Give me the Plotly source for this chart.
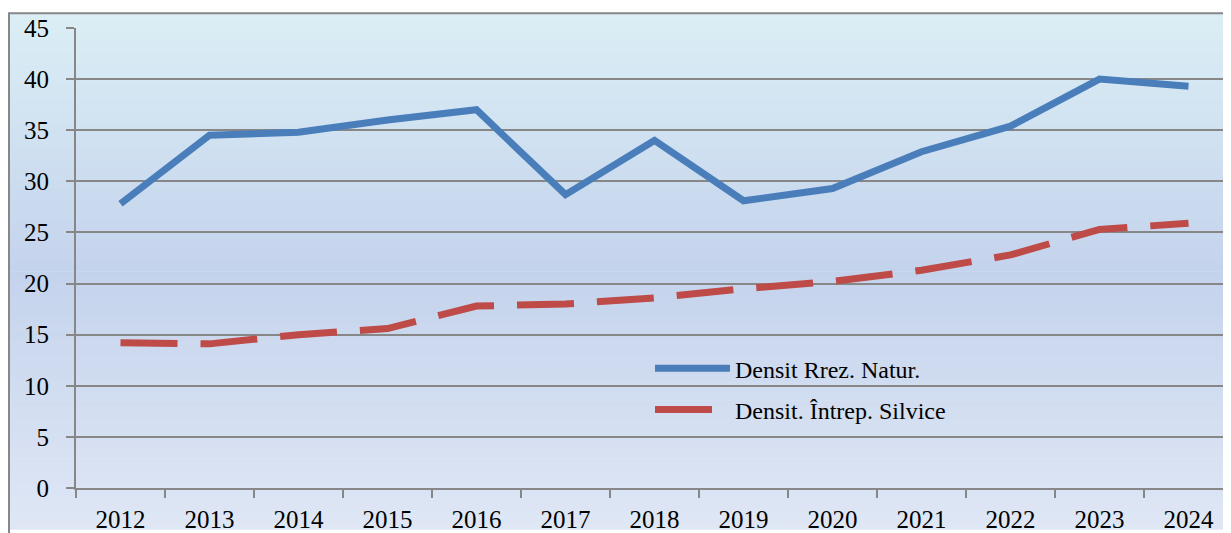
import plotly.graph_objects as go

years = ["2012", "2013", "2014", "2015", "2016", "2017", "2018",
         "2019", "2020", "2021", "2022", "2023", "2024"]
rezervatii = [27.8, 34.5, 34.8, 36.0, 37.0, 28.7, 34.0, 28.1, 29.3, 32.9, 35.4, 40.0, 39.3]
silvice = [14.2, 14.1, 15.0, 15.6, 17.8, 18.0, 18.6, 19.5, 20.2, 21.3, 22.8, 25.3, 25.9]
y_ticks = [0, 5, 10, 15, 20, 25, 30, 35, 40, 45]

FONT = "Liberation Serif"
OFF = 8  # page body margin
W, H = 1231 - OFF, 533 - OFF
ML, MR, MT, MB = 76 - OFF, 0, 28 - OFF, 43 - OFF
PW, PH = W - ML - MR, H - MT - MB

def sx(px):  # screen px -> paper x
    return (px - OFF - ML) / PW

def sy(py):  # screen px -> paper y
    return (H - MB - (py - OFF)) / PH

fig = go.Figure()
fig.add_trace(go.Scatter(x=years, y=rezervatii, mode="lines", name="Densit Rrez. Natur.",
                         legendgroup="a",
                         line=dict(color="#4A7EBB", width=7)))
fig.add_trace(go.Scatter(x=years, y=silvice, mode="lines", name="Densit. Întrep. Silvice",
                         legendgroup="b",
                         line=dict(color="#BE4B48", width=7, dash="57px,23px")))

def lerp(a, b, t):
    return tuple(a[i] + (b[i] - a[i]) * t for i in range(3))

c_top = (219, 238, 245)
c_mid = (196, 211, 236)
c_bot = (223, 231, 245)
N = 80
y_top_px, y_bot_px = 13, 540
shapes = []
for i in range(N):
    t = (i + 0.5) / N
    if t < 0.5:
        c = lerp(c_top, c_mid, t / 0.5)
    else:
        c = lerp(c_mid, c_bot, (t - 0.5) / 0.5)
    p0 = y_top_px + (y_bot_px - y_top_px) * i / N
    p1 = y_top_px + (y_bot_px - y_top_px) * (i + 1) / N + 0.6
    shapes.append(dict(type="rect", xref="paper", yref="paper", layer="below",
                       x0=sx(9), x1=sx(1240), y0=sy(p1), y1=sy(p0),
                       fillcolor="rgb(%d,%d,%d)" % tuple(int(round(v)) for v in c),
                       line=dict(width=0)))
shapes.append(dict(type="rect", xref="paper", yref="paper", layer="below",
                   x0=sx(9), x1=sx(1260), y0=sy(560), y1=sy(13),
                   fillcolor="rgba(0,0,0,0)", line=dict(color="#878787", width=2)))

fig.update_layout(
    width=W, height=H,
    margin=dict(l=ML, r=MR, t=MT, b=MB, pad=0),
    paper_bgcolor="white", plot_bgcolor="rgba(0,0,0,0)",
    font=dict(family=FONT, color="black", size=24),
    shapes=shapes,
    showlegend=True,
    legend=dict(x=sx(650), y=sy(353), xanchor="left", yanchor="top",
                bgcolor="rgba(0,0,0,0)", font=dict(family=FONT, size=24, color="black"),
                tracegroupgap=7, itemwidth=75),
    xaxis=dict(type="category", range=[-0.5, 12.5 - 2 / 89],
               tickson="boundaries", ticks="outside", ticklen=8, tickwidth=2, tickcolor="#878787",
               showline=True, linecolor="#878787", linewidth=2, showgrid=False,
               ticklabelstandoff=8, tickfont=dict(family=FONT, size=25, color="black")),
    yaxis=dict(range=[0, 45], tickvals=y_ticks, ticks="outside", ticklen=8, tickwidth=2,
               tickcolor="#878787", showline=True, linecolor="#878787", linewidth=2,
               showgrid=True, gridcolor="#878787", gridwidth=2, zeroline=False,
               ticklabelstandoff=12, tickfont=dict(family=FONT, size=25, color="black")),
)

fig.write_html("out.html")
